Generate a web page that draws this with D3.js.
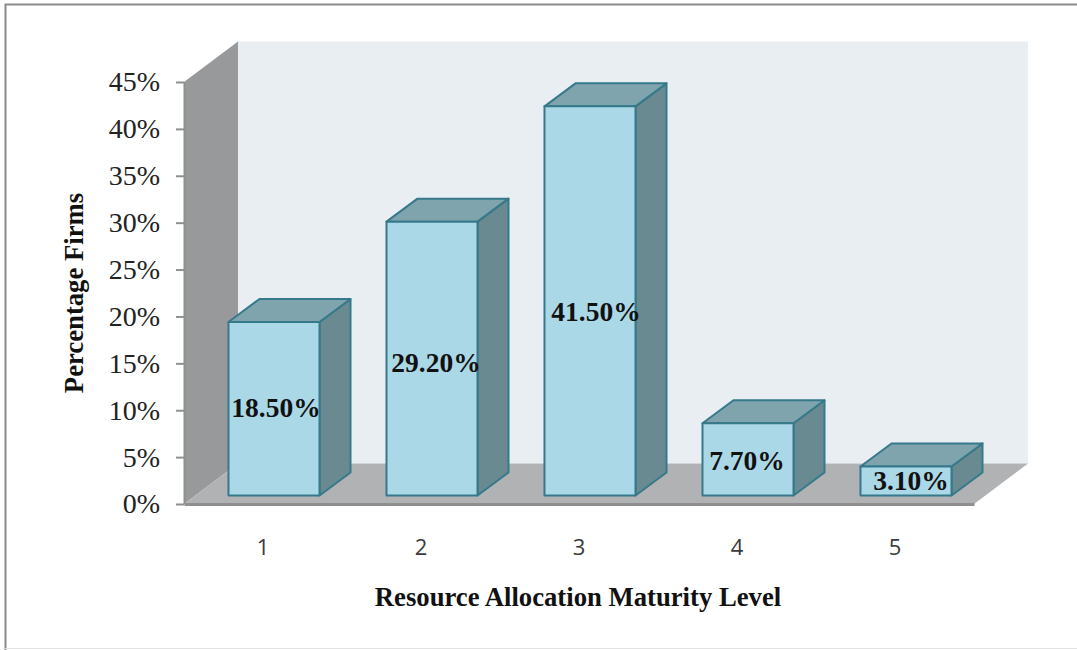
<!DOCTYPE html>
<html>
<head>
<meta charset="utf-8">
<script src="https://cdn.jsdelivr.net/npm/d3@7/dist/d3.min.js"></script>
<style>
html,body{margin:0;padding:0;background:#fff;}
svg{display:block;}
</style>
</head>
<body>
<script>
// Resource allocation maturity survey: share of firms per level
const levels = ["1", "2", "3", "4", "5"];
const shares = [18.5, 29.2, 41.5, 7.7, 3.1];
const shareLabels = ["18.50%", "29.20%", "41.50%", "7.70%", "3.10%"];
const yTicks = [0, 5, 10, 15, 20, 25, 30, 35, 40, 45];
const xTitle = "Resource Allocation Maturity Level";
const yTitle = "Percentage Firms";

const chartW = 1077, chartH = 650;
const svg = d3.select("body").append("svg").attr("width", chartW).attr("height", chartH);

// Front plane of the 3D box and the offset to its back plane
const plotLeft = 184, plotRight = 974, plotBottom = 504, plotTop = 82;
const wallDx = 54, wallDy = -40.5;
// Bars stand inset on the floor, with their own smaller depth
const barInsetX = 11, barInsetY = -8.5, barDx = 31, barDy = -23;

const x = d3.scaleBand().domain(levels).range([plotLeft, plotRight]).paddingInner(0.424).paddingOuter(0.212);
const y = d3.scaleLinear().domain([0, 45]).range([plotBottom, plotTop]);
const poly = pts => pts.map(p => p.join(",")).join(" ");

// Outer frame
svg.append("path").attr("d", `M5.5,${chartH}V4.5H${chartW}`).attr("fill", "none").attr("stroke", "#8c8c8c").attr("stroke-width", 2);
svg.append("path").attr("d", `M5,${chartH - 1.5}H${chartW}`).attr("fill", "none").attr("stroke", "#e2e2e2").attr("stroke-width", 1);

// Back wall, side wall, floor
svg.append("polygon").attr("fill", "#e9eef2").attr("points", poly([
  [plotLeft + wallDx, plotTop + wallDy], [plotRight + wallDx, plotTop + wallDy],
  [plotRight + wallDx, plotBottom + wallDy], [plotLeft + wallDx, plotBottom + wallDy]]));
svg.append("polygon").attr("fill", "#97999b").attr("points", poly([
  [plotLeft, plotTop], [plotLeft + wallDx, plotTop + wallDy], [plotLeft + wallDx, plotBottom + wallDy], [plotLeft, plotBottom]]));
svg.append("polygon").attr("fill", "#b0b2b4").attr("points", poly([
  [plotLeft, plotBottom], [plotLeft + wallDx, plotBottom + wallDy], [plotRight + wallDx, plotBottom + wallDy], [plotRight, plotBottom]]));

// Axes
const yAxis = d3.axisLeft(y).tickValues(yTicks).tickFormat(d => d + "%").tickSize(8).tickSizeOuter(0);
const gy = svg.append("g").attr("transform", `translate(${plotLeft},0)`).call(yAxis);
gy.selectAll("line").attr("stroke", "#8f8f8f").attr("stroke-width", 2);
gy.select(".domain").attr("stroke", "#8f8f8f").attr("stroke-width", 2);
gy.selectAll("text").attr("font-family", "'Liberation Serif', serif").attr("font-size", 28)
  .attr("fill", "#222").attr("x", -24).attr("dy", "0.32em");

const xAxis = d3.axisBottom(x).tickSize(0).tickSizeOuter(0);
const gx = svg.append("g").attr("transform", `translate(0,${plotBottom})`).call(xAxis);
gx.select(".domain").attr("stroke", "#8f8f8f").attr("stroke-width", 3);
gx.selectAll("text").attr("font-family", "'Open Sans', sans-serif").attr("font-size", 22)
  .attr("fill", "#3a3a3a").attr("y", 51).attr("dy", 0);

// Bars: side and top faces first, then the front face
const bars = svg.append("g").selectAll("g").data(levels).join("g");
const bx = d => x(d) + barInsetX;
bars.each(function (d, i) {
  const g = d3.select(this);
  const x0 = bx(d), x1 = x0 + x.bandwidth();
  const y0 = y(0) + barInsetY, y1 = y(shares[i]) + barInsetY;
  const edge = sel => sel.attr("stroke", "#35798b").attr("stroke-width", 2).attr("stroke-linejoin", "round");
  g.append("polygon").attr("fill", "#6a8a92").attr("points", poly([
    [x1, y1], [x1 + barDx, y1 + barDy], [x1 + barDx, y0 + barDy], [x1, y0]])).call(edge);
  g.append("polygon").attr("fill", "#7fa4ad").attr("points", poly([
    [x0, y1], [x0 + barDx, y1 + barDy], [x1 + barDx, y1 + barDy], [x1, y1]])).call(edge);
  g.append("rect").attr("x", x0).attr("y", y1).attr("width", x1 - x0).attr("height", y0 - y1)
    .attr("fill", "#abd8e6").call(edge);
});

// Value labels sit inside the front faces, each hand-placed a little off centre
const labelShiftX = [2, 4, 6, -1, 5];
const labelShiftY = [-1, 4, 11, 1, 0];
svg.append("g").selectAll("text").data(levels).join("text")
  .attr("x", (d, i) => bx(d) + x.bandwidth() / 2 + labelShiftX[i])
  .attr("y", (d, i) => (y(0) + y(shares[i])) / 2 + barInsetY + labelShiftY[i])
  .attr("dy", "0.34em")
  .attr("text-anchor", "middle")
  .attr("font-family", "'Liberation Serif', serif").attr("font-weight", "bold").attr("font-size", 27.5)
  .attr("fill", "#111")
  .text((d, i) => shareLabels[i]);

// Axis titles
svg.append("text").attr("x", 578).attr("y", 606).attr("text-anchor", "middle")
  .attr("font-family", "'Liberation Serif', serif").attr("font-weight", "bold").attr("font-size", 26.7)
  .attr("fill", "#111").text(xTitle);
svg.append("text").attr("transform", "translate(83,293) rotate(-90)").attr("text-anchor", "middle")
  .attr("font-family", "'Liberation Serif', serif").attr("font-weight", "bold").attr("font-size", 26.7)
  .attr("fill", "#111").text(yTitle);
</script>
</body>
</html>
